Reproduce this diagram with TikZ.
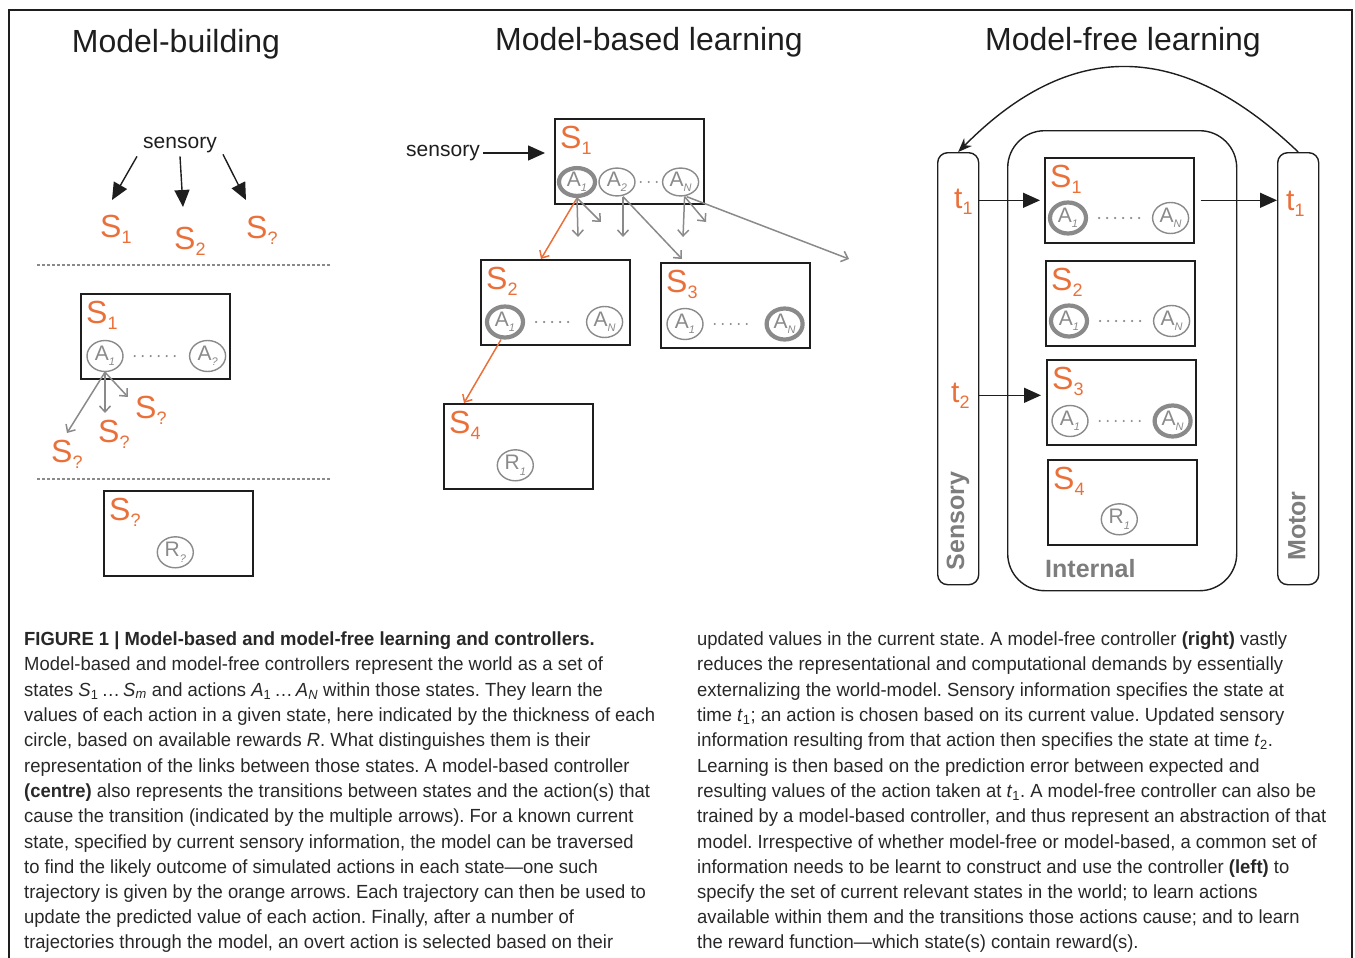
\documentclass[tikz,border=0pt]{standalone}
\usepackage{fontspec}
\setmainfont{Liberation Sans}
\newfontfamily\capfont{Liberation Sans}[FakeStretch=0.97]
\usepackage{tikz}
\usetikzlibrary{arrows.meta}
\usetikzlibrary{shapes.geometric}
\usetikzlibrary{positioning}
\frenchspacing

\definecolor{stateorange}{RGB}{234,112,58}
\definecolor{actgrey}{RGB}{138,138,138}
\definecolor{inkgrey}{RGB}{30,30,30}
\definecolor{labelgrey}{RGB}{125,125,125}
\definecolor{captext}{RGB}{40,40,40}

\newcommand{\ssub}[1]{\raisebox{-0.2em}{\fontsize{18}{18}\selectfont #1}}
\newcommand{\asub}[1]{\raisebox{-0.25em}{\fontsize{11}{11}\selectfont\itshape #1}}
\newcommand{\csub}[1]{\textsubscript{#1}}

\begin{document}
\begin{tikzpicture}[x=1pt, y=-1pt,
  statebox/.style={rectangle, draw=inkgrey, line width=1.6pt, minimum width=149pt, minimum height=85pt, anchor=north west, inner sep=0pt},
  slabel/.style={text=stateorange, font=\fontsize{32}{32}\selectfont, anchor=base west, inner sep=0pt},
  act/.style={ellipse, draw=actgrey, line width=1.4pt, minimum width=36pt, minimum height=31pt, inner sep=0pt, text=actgrey, font=\fontsize{21}{21}\selectfont},
  bigact/.style={act, line width=4.2pt},
  dotrow/.style={draw=actgrey, line width=2.4pt, line cap=round, dash pattern=on 0pt off 8pt, shorten <=11pt, shorten >=11pt},
  title/.style={anchor=base, text=inkgrey, font=\fontsize{32}{32}\selectfont},
  sens/.style={text=inkgrey, font=\fontsize{21}{21}\selectfont},
  blackarrow/.style={draw=inkgrey, line width=1.4pt, -{Triangle[length=17pt,width=15pt]}},
  greyarrow/.style={draw=actgrey, line width=1.5pt, -{Straight Barb[length=6pt,width=11pt]}},
  orangearrow/.style={draw=stateorange, line width=1.5pt, -{Straight Barb[length=6pt,width=11pt]}},
  sepline/.style={draw=actgrey, line width=1.5pt, dash pattern=on 3pt off 2pt},
  sidebar/.style={rectangle, rounded corners=10pt, draw=inkgrey, line width=1.4pt, minimum width=41pt, minimum height=432pt, anchor=north west},
  sidelabel/.style={text=labelgrey, font=\bfseries\fontsize{25}{25}\selectfont, inner sep=0pt},
  capline/.style={anchor=base west, inner sep=0pt, text=captext, font=\capfont\fontsize{19}{19}\selectfont}]
\useasboundingbox (0,0) rectangle (1355,958);
\draw [inkgrey, line width=1.8pt] (9,958) -- (9,10) -- (1352,10) -- (1352,958);

\node (tBuild) [title] at (176,53) {Model-building};
\node (tBased) [title] at (649,51) {Model-based learning};
\node (tFree) [title] at (1123,51) {Model-free learning};

\node (lSens) [sens] at (180,145) {sensory};
\coordinate (lTo1) at (112,200);
\coordinate (lTo2) at (183,207);
\coordinate (lTo3) at (246,200);
\draw [blackarrow] ([xshift=-43pt]lSens.south) -- (lTo1);
\draw [blackarrow] (lSens.south) -- (lTo2);
\draw [blackarrow] ([xshift=43pt,yshift=2pt]lSens.south) -- (lTo3);
\node (lTop1) [slabel] at (100,237) {S\ssub{1}};
\node (lTop2) [slabel] at (174,249) {S\ssub{2}};
\node (lTop3) [slabel] at (246,238) {S\ssub{?}};
\draw [sepline] (37,265) -- (330,265);

\node (lS1) [statebox] at (80,293) {};
\node (lS1n) [slabel] at ([xshift=6pt,yshift=-30pt]lS1.north west) {S\ssub{1}};
\node (lS1a1) [act] at ([xshift=25pt,yshift=-63pt]lS1.north west) {A\asub{1}};
\node (lS1aq) [act] at ([xshift=-23pt,yshift=-63pt]lS1.north east) {A\asub{?}};
\draw [dotrow] (lS1a1) -- (lS1aq);
\coordinate (lOut1) at (67,433);
\coordinate (lOut2) at (105,413);
\coordinate (lOut3) at (128,397);
\draw [greyarrow] (lS1a1.south) -- (lOut1);
\draw [greyarrow] (lS1a1.south) -- (lOut2);
\draw [greyarrow] (lS1a1.south) -- (lOut3);
\node (lQ1) [slabel] at (135,418) {S\ssub{?}};
\node (lQ2) [slabel] at (98,442) {S\ssub{?}};
\node (lQ3) [slabel] at (51,462) {S\ssub{?}};
\draw [sepline] (37,479) -- (330,479);

\node (lSq) [statebox] at (103,490) {};
\node (lSqn) [slabel] at ([xshift=6pt,yshift=-30pt]lSq.north west) {S\ssub{?}};
\node (lSqr) [act] at ([xshift=-3pt,yshift=-19pt]lSq.center) {R\asub{?}};

\node (mSens) [sens] at (443,153) {sensory};
\node (mS1) [statebox] at (554,118) {};
\draw [blackarrow, shorten >=9pt] (mSens.east) -- (mSens.east -| mS1.west);
\node (mS1n) [slabel] at ([xshift=6pt,yshift=-30pt]mS1.north west) {S\ssub{1}};
\node (mS1a1) [bigact, minimum height=25pt] at ([xshift=23pt,yshift=-64pt]mS1.north west) {A\asub{1}};
\node (mS1a2) [act, minimum height=25pt] at ([xshift=63pt,yshift=-64pt]mS1.north west) {A\asub{2}};
\node (mS1aN) [act, minimum height=25pt] at ([xshift=-24pt,yshift=-64pt]mS1.north east) {A\asub{N}};
\draw [dotrow, shorten <=5pt, shorten >=5pt] (mS1a2) -- (mS1aN);

\node (mS2) [statebox] at (480,259) {};
\node (mS2n) [slabel] at ([xshift=6pt,yshift=-30pt]mS2.north west) {S\ssub{2}};
\node (mS2a1) [bigact] at ([xshift=25pt,yshift=-63pt]mS2.north west) {A\asub{1}};
\node (mS2aN) [act] at ([xshift=-26pt,yshift=-63pt]mS2.north east) {A\asub{N}};
\draw [dotrow] (mS2a1) -- (mS2aN);

\node (mS3) [statebox] at (660,262) {};
\node (mS3n) [slabel] at ([xshift=6pt,yshift=-30pt]mS3.north west) {S\ssub{3}};
\node (mS3a1) [act] at ([xshift=25pt,yshift=-62pt]mS3.north west) {A\asub{1}};
\node (mS3aN) [bigact] at ([xshift=-26pt,yshift=-62pt]mS3.north east) {A\asub{N}};
\draw [dotrow] (mS3a1) -- (mS3aN);

\node (mS4) [statebox] at (443,403) {};
\node (mS4n) [slabel] at ([xshift=6pt,yshift=-30pt]mS4.north west) {S\ssub{4}};
\node (mS4r) [act] at ([xshift=-3pt,yshift=-19pt]mS4.center) {R\asub{1}};

\coordinate (mOut1) at (578,237);
\coordinate (mOut2) at (601,222);
\coordinate (mOut3) at (623,237);
\coordinate (mOut4) at (682,259);
\coordinate (mOut5) at (683,237);
\coordinate (mOut6) at (706,222);
\coordinate (mOut7) at (849,259);
\coordinate (mHit2) at (541,259);
\coordinate (mHit4) at (464,403);
\draw [orangearrow] (mS1a1.south) -- (mHit2);
\draw [greyarrow] (mS1a1.south) -- (mOut1);
\draw [greyarrow] (mS1a1.south) -- (mOut2);
\draw [greyarrow] ([xshift=6pt]mS1a2.south) -- (mOut3);
\draw [greyarrow] ([xshift=6pt]mS1a2.south) -- (mOut4);
\draw [greyarrow] ([xshift=4pt]mS1aN.south) -- (mOut5);
\draw [greyarrow] ([xshift=4pt]mS1aN.south) -- (mOut6);
\draw [greyarrow] ([xshift=6pt]mS1aN.south) -- (mOut7);
\draw [orangearrow] ([xshift=-4pt]mS2a1.south) -- (mHit4);

\node (rSens) [sidebar] at (937,152) {};
\node (rMotor) [sidebar] at (1277,152) {};
\node (rInt) [rectangle, rounded corners=37pt, draw=inkgrey, line width=1.4pt, minimum width=229pt, minimum height=460pt, anchor=north west] at (1007,130) {};
\node (rSensLbl) [sidelabel, rotate=90] at (958,521) {Sensory};
\node (rMotorLbl) [sidelabel, rotate=90] at (1297,526) {Motor};
\node (rIntLbl) [sidelabel, anchor=base west] at (1045,577) {Internal};
\draw [draw=inkgrey, line width=1.4pt, -{Stealth[length=14pt,width=11pt]}] (rMotor.north) .. controls (1180,39) and (1070,39) .. (rSens.north);

\node (rS1) [statebox] at (1044,157) {};
\node (rS1n) [slabel] at ([xshift=6pt,yshift=-30pt]rS1.north west) {S\ssub{1}};
\node (rS1a1) [bigact] at ([xshift=24pt,yshift=-61pt]rS1.north west) {A\asub{1}};
\node (rS1aN) [act] at ([xshift=-24pt,yshift=-61pt]rS1.north east) {A\asub{N}};
\draw [dotrow] (rS1a1) -- (rS1aN);

\node (rS2) [statebox] at (1045,260) {};
\node (rS2n) [slabel] at ([xshift=6pt,yshift=-30pt]rS2.north west) {S\ssub{2}};
\node (rS2a1) [bigact] at ([xshift=24pt,yshift=-61pt]rS2.north west) {A\asub{1}};
\node (rS2aN) [act] at ([xshift=-24pt,yshift=-61pt]rS2.north east) {A\asub{N}};
\draw [dotrow] (rS2a1) -- (rS2aN);

\node (rS3) [statebox] at (1046,359) {};
\node (rS3n) [slabel] at ([xshift=6pt,yshift=-30pt]rS3.north west) {S\ssub{3}};
\node (rS3a1) [act] at ([xshift=24pt,yshift=-62pt]rS3.north west) {A\asub{1}};
\node (rS3aN) [bigact] at ([xshift=-24pt,yshift=-62pt]rS3.north east) {A\asub{N}};
\draw [dotrow] (rS3a1) -- (rS3aN);

\node (rS4) [statebox] at (1047,459) {};
\node (rS4n) [slabel] at ([xshift=6pt,yshift=-30pt]rS4.north west) {S\ssub{4}};
\node (rS4r) [act] at ([xshift=-3pt,yshift=-17pt]rS4.center) {R\asub{1}};

\node (rT1in) [slabel, font=\fontsize{30}{30}\selectfont] at (954,208) {t\ssub{1}};
\node (rT2in) [slabel, font=\fontsize{30}{30}\selectfont] at (951,402) {t\ssub{2}};
\node (rT1out) [slabel, font=\fontsize{30}{30}\selectfont] at (1286,210) {t\ssub{1}};
\draw [blackarrow, shorten >=4pt] (rSens.east |- rS1.west) -- (rS1.west);
\draw [blackarrow, shorten >=5pt] (rSens.east |- rT2in.west) -- (rS3.west |- rT2in.west);
\draw [blackarrow, shorten <=6pt] (rS1.east) -- (rS1.east -| rMotor.west);

\node (c1) [capline] at (24,645) {\textbf{FIGURE 1 | Model-based and model-free learning and controllers.}};
\node (c2) [capline] at (24,670) {Model-based and model-free controllers represent the world as a set of};
\node (c3) [capline] at (24,696) {states \textit{S}\csub{1}\,\ldots\,\textit{S}\csub{\textit{m}} and actions \textit{A}\csub{1}\,\ldots\,\textit{A}\csub{\textit{N}} within those states. They learn the};
\node (c4) [capline] at (24,721) {values of each action in a given state, here indicated by the thickness of each};
\node (c5) [capline] at (24,746) {circle, based on available rewards \textit{R}. What distinguishes them is their};
\node (c6) [capline] at (24,772) {representation of the links between those states. A model-based controller};
\node (c7) [capline] at (24,797) {\textbf{(centre)} also represents the transitions between states and the action(s) that};
\node (c8) [capline] at (24,822) {cause the transition (indicated by the multiple arrows). For a known current};
\node (c9) [capline] at (24,848) {state, specified by current sensory information, the model can be traversed};
\node (c10) [capline] at (24,873) {to find the likely outcome of simulated actions in each state—one such};
\node (c11) [capline] at (24,898) {trajectory is given by the orange arrows. Each trajectory can then be used to};
\node (c12) [capline] at (24,923) {update the predicted value of each action. Finally, after a number of};
\node (c13) [capline] at (24,948) {trajectories through the model, an overt action is selected based on their};

\node (d1) [capline] at (697,645) {updated values in the current state. A model-free controller \textbf{(right)} vastly};
\node (d2) [capline] at (697,670) {reduces the representational and computational demands by essentially};
\node (d3) [capline] at (697,696) {externalizing the world-model. Sensory information specifies the state at};
\node (d4) [capline] at (697,721) {time \textit{t}\csub{1}; an action is chosen based on its current value. Updated sensory};
\node (d5) [capline] at (697,746) {information resulting from that action then specifies the state at time \textit{t}\csub{2}.};
\node (d6) [capline] at (697,772) {Learning is then based on the prediction error between expected and};
\node (d7) [capline] at (697,797) {resulting values of the action taken at \textit{t}\csub{1}. A model-free controller can also be};
\node (d8) [capline] at (697,822) {trained by a model-based controller, and thus represent an abstraction of that};
\node (d9) [capline] at (697,848) {model. Irrespective of whether model-free or model-based, a common set of};
\node (d10) [capline] at (697,873) {information needs to be learnt to construct and use the controller \textbf{(left)} to};
\node (d11) [capline] at (697,898) {specify the set of current relevant states in the world; to learn actions};
\node (d12) [capline] at (697,923) {available within them and the transitions those actions cause; and to learn};
\node (d13) [capline] at (697,948) {the reward function—which state(s) contain reward(s).};
\end{tikzpicture}
\end{document}
